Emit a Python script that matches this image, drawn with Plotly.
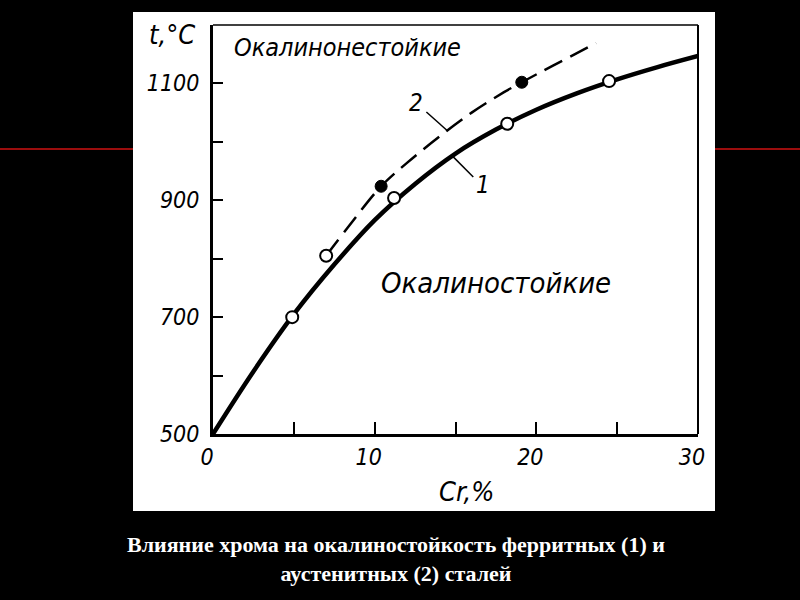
import plotly.graph_objects as go

# кривая 1 — ферритные стали (сплошная), кривая 2 — аустенитные (штриховая)
curve1_cr = [0, 2.5, 5, 7.5, 10, 12.5, 15, 17.5, 20, 22.5, 25, 27.5, 30]
curve1_t = [500, 607, 705, 790, 866, 928, 980, 1021, 1055, 1083, 1107, 1128, 1147]

curve2_cr = [7.0, 8.3, 10.4, 12.0, 14.0, 16.0, 18.0, 19.1, 21.0, 23.7]
curve2_t = [805, 852, 924, 964, 1009, 1050, 1085, 1102, 1130, 1169]

points1_cr = [4.9, 7.0, 11.2, 18.2, 24.5]
points1_t = [700, 805, 904, 1031, 1104]

points2_cr = [10.4, 19.1]
points2_t = [924, 1102]

x_ticks = [0, 5, 10, 15, 20, 25, 30]
x_labels = ["0", "", "10", "", "20", "", "30"]
y_ticks = [500, 600, 700, 800, 900, 1000, 1100]
y_labels = ["500", "", "700", "", "900", "", "1100"]

caption = "Влияние хрома на окалиностойкость ферритных (1) и<br>аустенитных (2) сталей"

FONT = "DejaVu Sans Condensed, DejaVu Sans, sans-serif"

# plot area in pixels: x 213..698, y 25..434
L, R, T, B = 213, 698, 25, 434


def px(x):
    return (x - L) / (R - L)


def py(y):
    return (B - y) / (B - T)


fig = go.Figure()

fig.add_trace(go.Scatter(x=curve1_cr, y=curve1_t, mode="lines",
                         line=dict(color="black", width=4.5, shape="spline"),
                         showlegend=False, hoverinfo="skip"))
fig.add_trace(go.Scatter(x=curve2_cr, y=curve2_t, mode="lines",
                         line=dict(color="black", width=2.5, shape="spline", dash="20px,9px"),
                         showlegend=False, hoverinfo="skip"))
fig.add_trace(go.Scatter(x=points1_cr, y=points1_t, mode="markers",
                         marker=dict(size=12, color="white", line=dict(color="black", width=2)),
                         showlegend=False))
fig.add_trace(go.Scatter(x=points2_cr, y=points2_t, mode="markers",
                         marker=dict(size=12, color="black", line=dict(color="black", width=1)),
                         showlegend=False))

# белая подложка и красные полосы на чёрном фоне
fig.add_shape(type="line", xref="paper", yref="paper", x0=px(0), x1=px(133), y0=py(149), y1=py(149),
              line=dict(color="#9b0d0d", width=2), layer="below")
fig.add_shape(type="line", xref="paper", yref="paper", x0=px(715), x1=px(800), y0=py(149), y1=py(149),
              line=dict(color="#9b0d0d", width=2), layer="below")
fig.add_shape(type="rect", xref="paper", yref="paper", x0=px(133), x1=px(715), y0=py(511), y1=py(12),
              fillcolor="white", line=dict(width=0), layer="below")
# верхняя и правая рамка
fig.add_shape(type="line", xref="paper", yref="paper", x0=0, x1=1, y0=1, y1=1,
              line=dict(color="black", width=1.5))
fig.add_shape(type="line", xref="paper", yref="paper", x0=1, x1=1, y0=0, y1=1,
              line=dict(color="black", width=2))

# выноски
fig.add_shape(type="line", x0=13.2, y0=1051, x1=14.5, y1=1019, line=dict(color="black", width=1.5))
fig.add_shape(type="line", x0=14.8, y0=976, x1=16.1, y1=940, line=dict(color="black", width=1.5))

italic = dict(family=FONT, color="black", style="italic")
fig.add_annotation(x=8.3, y=1162, text="Окалинонестойкие", showarrow=False, xanchor="center",
                   font=dict(italic, size=25))
fig.add_annotation(x=17.5, y=758, text="Окалиностойкие", showarrow=False, xanchor="center",
                   font=dict(italic, size=29))
fig.add_annotation(x=12.55, y=1066, text="2", showarrow=False, xanchor="center",
                   font=dict(italic, size=24))
fig.add_annotation(x=16.7, y=926, text="1", showarrow=False, xanchor="center",
                   font=dict(italic, size=24))
fig.add_annotation(x=px(172), y=py(34), xref="paper", yref="paper", text="t,°C", showarrow=False,
                   xanchor="center", yanchor="middle", font=dict(italic, size=27))
fig.add_annotation(x=px(466), y=py(492), xref="paper", yref="paper", text="Cr,%", showarrow=False,
                   xanchor="center", yanchor="middle", font=dict(italic, size=27))
fig.add_annotation(x=px(396), y=py(559), xref="paper", yref="paper", text=caption, showarrow=False,
                   xanchor="center", yanchor="middle",
                   font=dict(family="Liberation Serif, Times New Roman, serif", size=22,
                             color="white", weight="bold"))

fig.update_xaxes(range=[0, 30], tickvals=x_ticks, ticktext=x_labels, ticks="inside", ticklen=12,
                 tickwidth=1.5, tickcolor="black", showline=True, linewidth=3, linecolor="black",
                 showgrid=False, zeroline=False, tickfont=dict(italic, size=23),
                 ticklabelshift=-6, ticklabelstandoff=0)
fig.update_yaxes(range=[500, 1200], tickvals=y_ticks, ticktext=y_labels, ticks="inside", ticklen=10,
                 tickwidth=1.5, tickcolor="black", showline=True, linewidth=3, linecolor="black",
                 showgrid=False, zeroline=False, tickfont=dict(italic, size=23),
                 ticklabelstandoff=6)

fig.update_layout(width=800, height=600, paper_bgcolor="black", plot_bgcolor="white",
                  margin=dict(l=L, r=800 - R, t=T, b=600 - B), showlegend=False)

fig.write_html("out.html", config={"displayModeBar": False},
               post_script="document.body.style.margin='0';document.body.style.background='black';")
